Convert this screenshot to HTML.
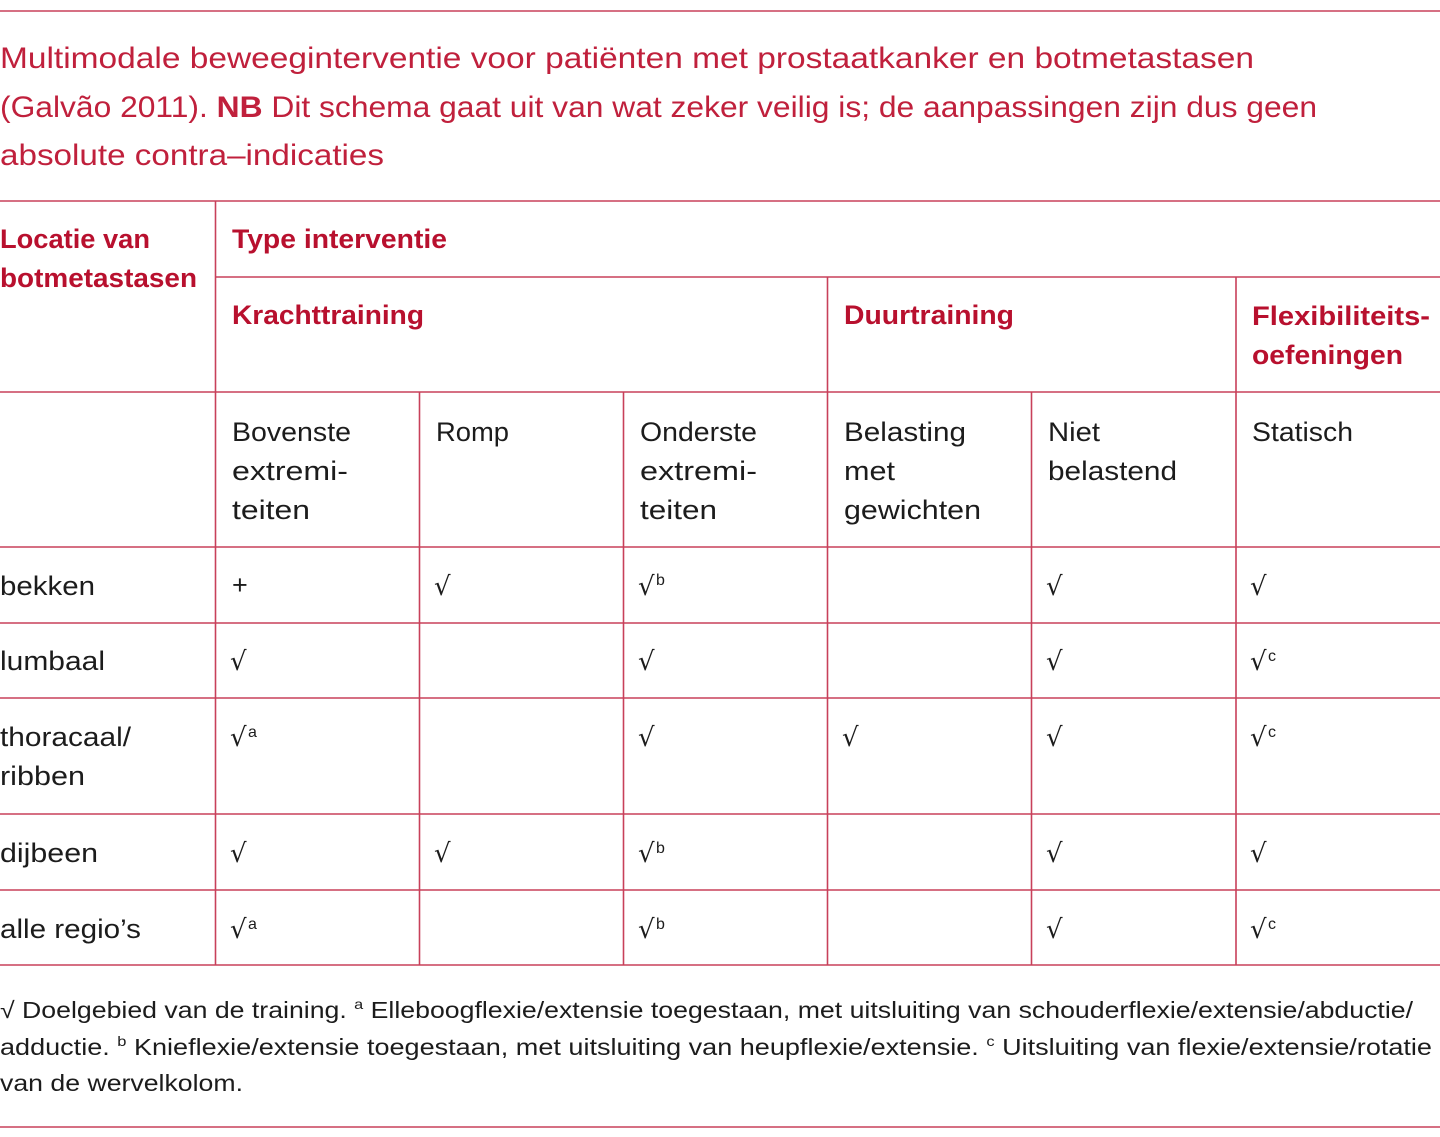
<!DOCTYPE html>
<html><head><meta charset="utf-8"><style>
html,body{margin:0;padding:0;background:#fff;}
svg{display:block;}
text{font-family:"Liberation Sans","DejaVu Sans",sans-serif;}
.t{fill:#c0203c;font-size:30px;}
.h{fill:#b8102e;font-size:27px;font-weight:bold;}
.d{fill:#1c1c1c;font-size:27px;}
.f{fill:#1c1c1c;font-size:23px;}
.c{fill:#1c1c1c;font-size:26px;font-family:"DejaVu Sans","Liberation Sans",sans-serif;}
.s{fill:#1c1c1c;font-size:16px;}
</style></head><body>
<svg width="1440" height="1137" viewBox="0 0 1440 1137" xmlns="http://www.w3.org/2000/svg">
<g stroke="#c8405a" stroke-width="1.6" fill="none">
<line x1="0" y1="11" x2="1440" y2="11"/>
<line x1="0" y1="201" x2="1440" y2="201"/>
<line x1="215" y1="277" x2="1440" y2="277"/>
<line x1="0" y1="392" x2="1440" y2="392"/>
<line x1="0" y1="547" x2="1440" y2="547"/>
<line x1="0" y1="623" x2="1440" y2="623"/>
<line x1="0" y1="698" x2="1440" y2="698"/>
<line x1="0" y1="814" x2="1440" y2="814"/>
<line x1="0" y1="890" x2="1440" y2="890"/>
<line x1="0" y1="965" x2="1440" y2="965"/>
<line x1="0" y1="1127" x2="1440" y2="1127"/>
<line x1="215.5" y1="201" x2="215.5" y2="965"/>
<line x1="827.5" y1="277" x2="827.5" y2="965"/>
<line x1="1236" y1="277" x2="1236" y2="965"/>
<line x1="419.5" y1="392" x2="419.5" y2="965"/>
<line x1="623.5" y1="392" x2="623.5" y2="965"/>
<line x1="1031.5" y1="392" x2="1031.5" y2="965"/>
</g>

<text class="t" x="0" y="68" textLength="1254" lengthAdjust="spacingAndGlyphs">Multimodale beweeginterventie voor patiënten met prostaatkanker en botmetastasen</text>
<text class="t" x="0" y="117" textLength="1317" lengthAdjust="spacingAndGlyphs">(Galvão 2011). <tspan font-weight="bold">NB</tspan> Dit schema gaat uit van wat zeker veilig is; de aanpassingen zijn dus geen</text>
<text class="t" x="0" y="165" textLength="384" lengthAdjust="spacingAndGlyphs">absolute contra–indicaties</text>

<text class="h" x="0" y="248" textLength="150" lengthAdjust="spacingAndGlyphs">Locatie van</text>
<text class="h" x="0" y="287" textLength="197" lengthAdjust="spacingAndGlyphs">botmetastasen</text>
<text class="h" x="232" y="248" textLength="215" lengthAdjust="spacingAndGlyphs">Type interventie</text>
<text class="h" x="232" y="324" textLength="192" lengthAdjust="spacingAndGlyphs">Krachttraining</text>
<text class="h" x="844" y="324" textLength="170" lengthAdjust="spacingAndGlyphs">Duurtraining</text>
<text class="h" x="1252" y="325" textLength="178" lengthAdjust="spacingAndGlyphs">Flexibiliteits-</text>
<text class="h" x="1252" y="364" textLength="151" lengthAdjust="spacingAndGlyphs">oefeningen</text>

<text class="d" x="232" y="441" textLength="119" lengthAdjust="spacingAndGlyphs">Bovenste</text>
<text class="d" x="232" y="480" textLength="116" lengthAdjust="spacingAndGlyphs">extremi-</text>
<text class="d" x="232" y="519" textLength="78" lengthAdjust="spacingAndGlyphs">teiten</text>
<text class="d" x="436" y="441" textLength="73" lengthAdjust="spacingAndGlyphs">Romp</text>
<text class="d" x="640" y="441" textLength="117" lengthAdjust="spacingAndGlyphs">Onderste</text>
<text class="d" x="640" y="480" textLength="117" lengthAdjust="spacingAndGlyphs">extremi-</text>
<text class="d" x="640" y="519" textLength="77" lengthAdjust="spacingAndGlyphs">teiten</text>
<text class="d" x="844" y="441" textLength="122" lengthAdjust="spacingAndGlyphs">Belasting</text>
<text class="d" x="844" y="480" textLength="51" lengthAdjust="spacingAndGlyphs">met</text>
<text class="d" x="844" y="519" textLength="137" lengthAdjust="spacingAndGlyphs">gewichten</text>
<text class="d" x="1048" y="441" textLength="52" lengthAdjust="spacingAndGlyphs">Niet</text>
<text class="d" x="1048" y="480" textLength="129" lengthAdjust="spacingAndGlyphs">belastend</text>
<text class="d" x="1252" y="441" textLength="101" lengthAdjust="spacingAndGlyphs">Statisch</text>

<text class="d" x="0" y="595" textLength="95" lengthAdjust="spacingAndGlyphs">bekken</text>
<text class="d" x="0" y="670" textLength="105" lengthAdjust="spacingAndGlyphs">lumbaal</text>
<text class="d" x="0" y="746" textLength="131" lengthAdjust="spacingAndGlyphs">thoracaal/</text>
<text class="d" x="0" y="785" textLength="85" lengthAdjust="spacingAndGlyphs">ribben</text>
<text class="d" x="0" y="862" textLength="98" lengthAdjust="spacingAndGlyphs">dijbeen</text>
<text class="d" x="0" y="938" textLength="141" lengthAdjust="spacingAndGlyphs">alle regio’s</text>

<!-- bekken -->
<text class="d" x="232" y="594">+</text>
<text class="c" x="434" y="595">√</text>
<text class="c" x="638" y="595">√</text><text class="s" x="656" y="585">b</text>
<text class="c" x="1046" y="595">√</text>
<text class="c" x="1250" y="595">√</text>
<!-- lumbaal -->
<text class="c" x="230" y="670">√</text>
<text class="c" x="638" y="670">√</text>
<text class="c" x="1046" y="670">√</text>
<text class="c" x="1250" y="670">√</text><text class="s" x="1268" y="661">c</text>
<!-- thoracaal -->
<text class="c" x="230" y="746">√</text><text class="s" x="248" y="737">a</text>
<text class="c" x="638" y="746">√</text>
<text class="c" x="842" y="746">√</text>
<text class="c" x="1046" y="746">√</text>
<text class="c" x="1250" y="746">√</text><text class="s" x="1268" y="737">c</text>
<!-- dijbeen -->
<text class="c" x="230" y="862">√</text>
<text class="c" x="434" y="862">√</text>
<text class="c" x="638" y="862">√</text><text class="s" x="656" y="853">b</text>
<text class="c" x="1046" y="862">√</text>
<text class="c" x="1250" y="862">√</text>
<!-- alle regio's -->
<text class="c" x="230" y="938">√</text><text class="s" x="248" y="929">a</text>
<text class="c" x="638" y="938">√</text><text class="s" x="656" y="929">b</text>
<text class="c" x="1046" y="938">√</text>
<text class="c" x="1250" y="938">√</text><text class="s" x="1268" y="929">c</text>

<text class="f" x="0" y="1018" textLength="1413" lengthAdjust="spacingAndGlyphs">√ Doelgebied van de training. <tspan font-size="14" dy="-9">a</tspan><tspan dy="9"> Elleboogflexie/extensie toegestaan, met uitsluiting van schouderflexie/extensie/abductie/</tspan></text>
<text class="f" x="0" y="1055" textLength="1432" lengthAdjust="spacingAndGlyphs">adductie. <tspan font-size="14" dy="-9">b</tspan><tspan dy="9"> Knieflexie/extensie toegestaan, met uitsluiting van heupflexie/extensie. </tspan><tspan font-size="14" dy="-9">c</tspan><tspan dy="9"> Uitsluiting van flexie/extensie/rotatie</tspan></text>
<text class="f" x="0" y="1091" textLength="243" lengthAdjust="spacingAndGlyphs">van de wervelkolom.</text>
</svg>
</body></html>
